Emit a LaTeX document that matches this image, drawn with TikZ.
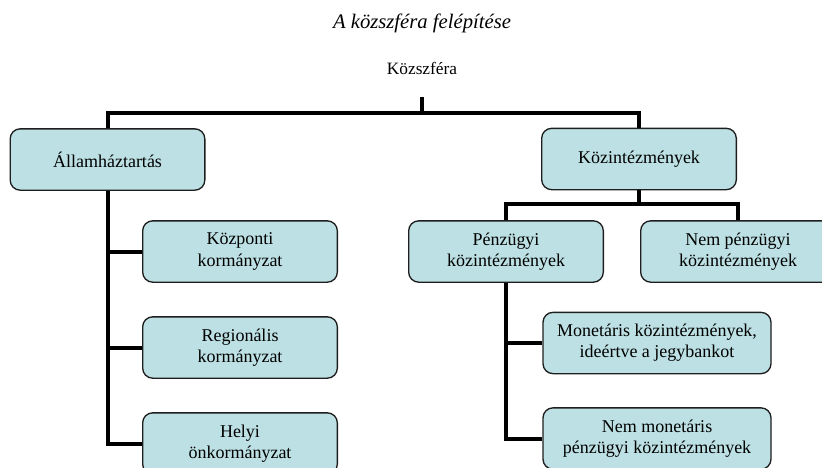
\documentclass[tikz,border=0pt]{standalone}
\usepackage{fontspec}
\setmainfont{Liberation Serif}
\definecolor{boxfill}{HTML}{BCE0E3}
\definecolor{boxline}{HTML}{1E1E1E}

\begin{document}
\begin{tikzpicture}[x=0.75pt, y=-0.75pt, org-box/.style={ rectangle, rounded corners=7.5pt, draw=boxline, fill=boxfill, line width=1pt, minimum width=146pt, minimum height=46pt, align=center, font=\fontsize{13.5}{16}\selectfont, }, link/.style={ line width=3pt, line join=miter, } ]
            \useasboundingbox (0, 0) rectangle (822, 468);

            \node (title) at (422, 23) {\fontsize{15.5}{18}\selectfont\itshape A közszféra felépítése};
            \node (root) at (422, 68) {\fontsize{13}{16}\selectfont Közszféra};

            \node[org-box] (allam) at (107.5, 159.5) {Államháztartás};
            \node[org-box] (kozint) at (639, 159) {Közintézmények};
            \node[org-box] (kozponti) at (240, 251.5) {Központi\\kormányzat};
            \node[org-box] (regional) at (240, 347.5) {Regionális\\kormányzat};
            \node[org-box] (helyi) at (240, 443.5) {Helyi\\önkormányzat};
            \node[org-box] (penzugyi) at (506, 251.5) {Pénzügyi\\közintézmények};
            \node[org-box] (nempenz) at (738, 251.5) {Nem pénzügyi\\közintézmények};
            \node[org-box, minimum width=171pt] (monetaris) at (657, 343) {Monetáris közintézmények,\\ideértve a jegybankot};
            \node[org-box, minimum width=171pt] (nemmonet) at (657, 438.5) {Nem monetáris\\pénzügyi közintézmények};

            \coordinate (top) at (422, 97);
            \coordinate (split) at (422, 113);
            \coordinate (kozsplit) at (639, 204);

            % Edges
            \draw[link] (top) -- (split);
            \draw[link] (allam.north) |- (split) -| (kozint.north);
            \draw[link] (allam.south) |- (kozponti.west);
            \draw[link] (allam.south) |- (regional.west);
            \draw[link] (allam.south) |- (helyi.west);
            \draw[link] (kozint.south) -- (kozsplit);
            \draw[link] (penzugyi.north) |- (kozsplit) -| (nempenz.north);
            \draw[link] (penzugyi.south) |- (monetaris.west);
            \draw[link] (penzugyi.south) |- (nemmonet.west);
        \end{tikzpicture}
\end{document}
